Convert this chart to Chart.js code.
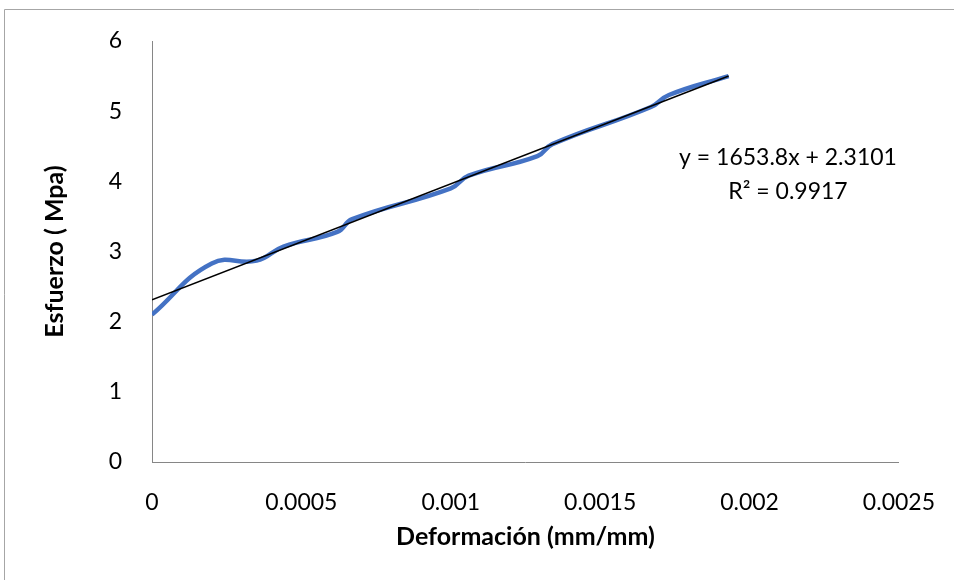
<!DOCTYPE html>
<html>
<head>
<meta charset="utf-8">
<script src="https://cdn.jsdelivr.net/npm/chart.js@4"></script>
<style>
  html, body { margin: 0; padding: 0; background: #fff; }
  #wrap { width: 954px; height: 580px; position: relative; }
</style>
</head>
<body>
<div id="wrap"><canvas id="myChart" width="954" height="580"></canvas></div>
<script>
// strain (mm/mm) vs stress (MPa)
const strain = [0, 0.0002, 0.00035, 0.00044, 0.00062, 0.00067, 0.001, 0.00106, 0.00129, 0.00134, 0.00167, 0.00173, 0.00193];
const stress = [2.1, 2.83, 2.87, 3.07, 3.28, 3.46, 3.9, 4.08, 4.36, 4.53, 5.06, 5.23, 5.5];

// linear trendline shown by the original
const trendSlope = [1653.8];
const trendIntercept = [2.3101];
const trendR2 = [0.9917];

const xTicks = [0, 0.0005, 0.001, 0.0015, 0.002, 0.0025];
const yTicks = [0, 1, 2, 3, 4, 5, 6];

const FONT = 'Lato, "Open Sans", sans-serif';

const points = strain.map((x, i) => ({ x: x, y: stress[i] }));
const xEnds = [strain[0], strain[strain.length - 1]];
const trendPoints = xEnds.map(x => ({ x: x, y: trendSlope[0] * x + trendIntercept[0] }));

const frameAndLabel = {
    id: 'frameAndLabel',
    afterDraw(chart) {
        const ctx = chart.ctx;
        ctx.save();
        // outer chart frame (only top and left edges are in view)
        ctx.strokeStyle = '#a6a6a6';
        ctx.lineWidth = 1;
        ctx.beginPath();
        ctx.moveTo(4.5, 580);
        ctx.lineTo(4.5, 9.5);
        ctx.lineTo(954, 9.5);
        ctx.stroke();

        // trendline equation
        ctx.fillStyle = '#000';
        ctx.font = '23px ' + FONT;
        ctx.textAlign = 'center';
        ctx.textBaseline = 'middle';
        const cx = 788;
        ctx.fillText('y = ' + trendSlope[0] + 'x + ' + trendIntercept[0], cx, 158);
        ctx.fillText('R\u00B2 = ' + trendR2[0], cx, 192);
        ctx.restore();
    }
};

new Chart("myChart", {
    type: "scatter",
    data: {
        datasets: [{
            data: points,
            showLine: true,
            borderColor: 'rgb(68,114,196)',
            borderWidth: 4.5,
            pointRadius: 0,
            tension: 0.45,
            order: 2
        }, {
            data: trendPoints,
            showLine: true,
            borderColor: '#000',
            borderWidth: 1.5,
            pointRadius: 0,
            tension: 0,
            order: 1
        }]
    },
    options: {
        responsive: false,
        animation: false,
        layout: { padding: { top: 41, right: 51, left: 0, bottom: 0 } },
        plugins: {
            legend: { display: false },
            tooltip: { enabled: false }
        },
        scales: {
            x: {
                type: 'linear',
                min: 0,
                max: 0.0025,
                afterBuildTicks: scale => { scale.ticks = xTicks.map(v => ({ value: v })); },
                afterFit: scale => { scale.height = 118; },
                grid: { display: false },
                border: { display: true, color: '#868686', width: 1 },
                ticks: {
                    padding: 19,
                    color: '#000',
                    font: { family: FONT, size: 23 },
                    callback: v => String(v)
                },
                title: {
                    display: true,
                    text: 'Deformación (mm/mm)',
                    color: '#000',
                    font: { family: FONT, size: 25, weight: 'bold' },
                    padding: { top: 0, bottom: 28 }
                }
            },
            y: {
                type: 'linear',
                min: 0,
                max: 6,
                afterBuildTicks: scale => { scale.ticks = yTicks.map(v => ({ value: v })); },
                afterFit: scale => { scale.width = 152; },
                grid: { display: false },
                border: { display: true, color: '#868686', width: 1 },
                ticks: {
                    padding: 22,
                    color: '#000',
                    font: { family: FONT, size: 23 }
                },
                title: {
                    display: true,
                    text: 'Esfuerzo ( Mpa)',
                    color: '#000',
                    font: { family: FONT, size: 25, weight: 'bold' },
                    padding: { top: 40, bottom: 0 }
                }
            }
        }
    },
    plugins: [frameAndLabel]
});
</script>
</body>
</html>
